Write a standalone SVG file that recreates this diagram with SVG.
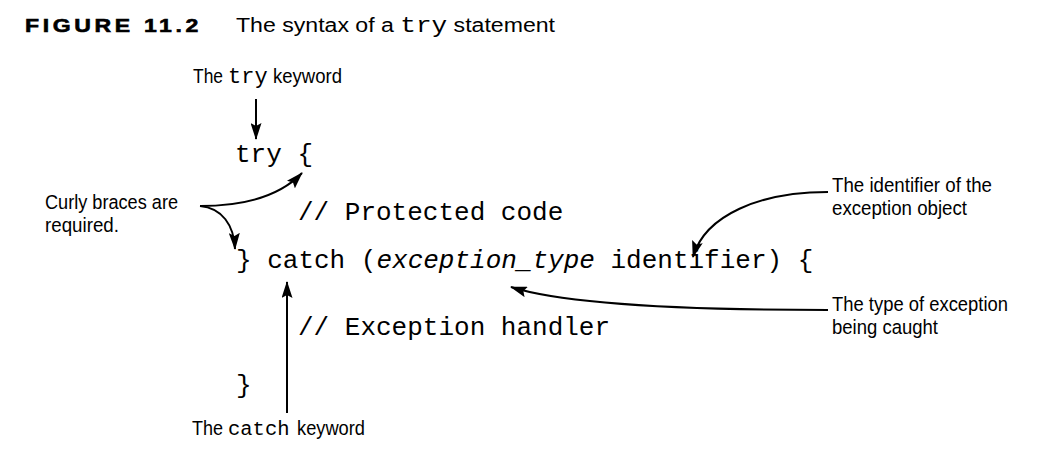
<svg xmlns="http://www.w3.org/2000/svg" width="1045" height="472" viewBox="0 0 1045 472">
<style>
.lbl{font-family:"Liberation Sans",Arial,sans-serif;font-size:20.5px;fill:#000}
.code{font-family:"Liberation Mono","Courier New",monospace;font-size:26px;fill:#000}
.mono{font-family:"Liberation Mono","Courier New",monospace;fill:#000}
.conn{fill:none;stroke:#000;stroke-width:2;marker-end:url(#ah)}
</style>
<defs>
<marker id="ah" markerUnits="userSpaceOnUse" viewBox="0 0 17 11" refX="16" refY="5.5" markerWidth="17" markerHeight="11" orient="auto">
<path d="M0,0 L17,5.5 L0,11 L3,5.5 z" fill="#000"/>
</marker>
</defs>
<rect width="1045" height="472" fill="#fff"/>
<g id="title">
<text x="25" y="31.7" font-family="Liberation Sans,Arial,sans-serif" font-size="19" font-weight="bold" stroke="#000" stroke-width="0.6" letter-spacing="3" textLength="177" lengthAdjust="spacingAndGlyphs">FIGURE 11.2</text>
<text x="236" y="31.7" font-family="Liberation Sans,Arial,sans-serif" font-size="19.5" textLength="319" lengthAdjust="spacingAndGlyphs">The syntax of a <tspan class="mono" font-size="22">try</tspan> statement</text>
</g>
<g id="code">
<text class="code" x="235" y="162" xml:space="preserve">try {</text>
<text class="code" x="298" y="220" xml:space="preserve">// Protected code</text>
<text class="code" x="236" y="268" xml:space="preserve">} catch (<tspan font-style="italic">exception_type</tspan> identifier) {</text>
<text class="code" x="298" y="335" xml:space="preserve">// Exception handler</text>
<text class="code" x="236" y="393">}</text>
</g>
<g id="label-try">
<text class="lbl" x="193" y="83" textLength="30" lengthAdjust="spacingAndGlyphs">The</text>
<text class="mono" x="228" y="83" font-size="22">try</text>
<text class="lbl" x="273" y="83" textLength="69" lengthAdjust="spacingAndGlyphs">keyword</text>
</g>
<g id="label-braces">
<text class="lbl" x="45" y="209" textLength="133" lengthAdjust="spacingAndGlyphs">Curly braces are</text>
<text class="lbl" x="45" y="232" textLength="74" lengthAdjust="spacingAndGlyphs">required.</text>
</g>
<g id="label-identifier">
<text class="lbl" x="832" y="192" textLength="160" lengthAdjust="spacingAndGlyphs">The identifier of the</text>
<text class="lbl" x="832" y="215" textLength="135" lengthAdjust="spacingAndGlyphs">exception object</text>
</g>
<g id="label-type">
<text class="lbl" x="832" y="311" textLength="176" lengthAdjust="spacingAndGlyphs">The type of exception</text>
<text class="lbl" x="832" y="334" textLength="106" lengthAdjust="spacingAndGlyphs">being caught</text>
</g>
<g id="label-catch">
<text class="lbl" x="192" y="435" textLength="31" lengthAdjust="spacingAndGlyphs">The</text>
<text class="mono" x="228" y="435" font-size="20.5">catch</text>
<text class="lbl" x="297" y="435" textLength="68" lengthAdjust="spacingAndGlyphs">keyword</text>
</g>
<g id="connectors">
<path class="conn" d="M256,99 L256,139"/>
<path class="conn" d="M287,413 L287,282"/>
<path class="conn" d="M200,206 C240,206 278,198 302,173"/>
<path class="conn" d="M200,206 C222,208 234,225 235,249"/>
<path class="conn" d="M828,192 C760,192 705,215 693,257"/>
<path class="conn" d="M828,310 C700,310 570,306 511,287"/>
</g>
</svg>
